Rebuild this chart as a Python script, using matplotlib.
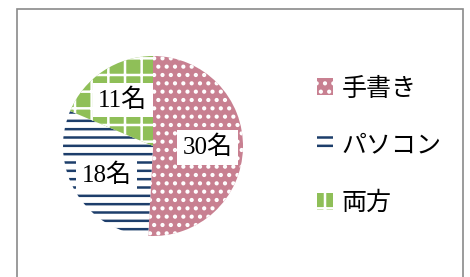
import matplotlib
matplotlib.use('Agg')
import matplotlib.pyplot as plt
from matplotlib.patches import Rectangle

# data
labels = ['手書き', 'パソコン', '両方']
counts = [30, 18, 11]
unit = '名'

# styles
faces = ['#c88091', 'white', '#8fbf58']
hatch_colors = ['white', '#1d3e6b', 'white']
hatches = ['..', '--', '+']

plt.rcParams['hatch.linewidth'] = 1.8
plt.rcParams['font.family'] = ['Noto Sans CJK JP', 'DejaVu Sans']

fig = plt.figure(figsize=(4.7, 2.77), dpi=100)
fig.patch.set_facecolor('white')

# outer frame of the scanned chart
fig.patches.append(Rectangle((17 / 470, -0.1), 446 / 470, 1 - 9 / 277 + 0.1,
                             transform=fig.transFigure, fill=False,
                             edgecolor='#8a8a8a', linewidth=1.2))

ax = fig.add_axes([63 / 470, 41 / 277, 180 / 470, 180 / 277])
total = sum(counts)
wedges, texts, autotexts = ax.pie(
    counts, startangle=90, counterclock=False, radius=1,
    autopct=lambda p: f'{round(p * total / 100)}{unit}', pctdistance=0.61,
    textprops=dict(fontsize=18, family=['Liberation Serif', 'Noto Sans CJK JP']))
for w, fc, hc, h in zip(wedges, faces, hatch_colors, hatches):
    w.set_facecolor(fc)
    w.set_edgecolor(hc)
    w.set_hatch(h)
    w.set_linewidth(0)
for t in autotexts:
    t.set_bbox(dict(facecolor='white', edgecolor='none', pad=4))
ax.set_xlim(-1, 1)
ax.set_ylim(-1, 1)
ax.set_aspect('equal')

fig.legend(wedges, labels, loc='upper left', bbox_to_anchor=(304 / 470, 1 - 63 / 277),
           frameon=False, fontsize=18, handlelength=0.65, handleheight=0.65,
           handletextpad=0.35, labelspacing=1.25, borderpad=0)

fig.savefig('out.png', dpi=100)
